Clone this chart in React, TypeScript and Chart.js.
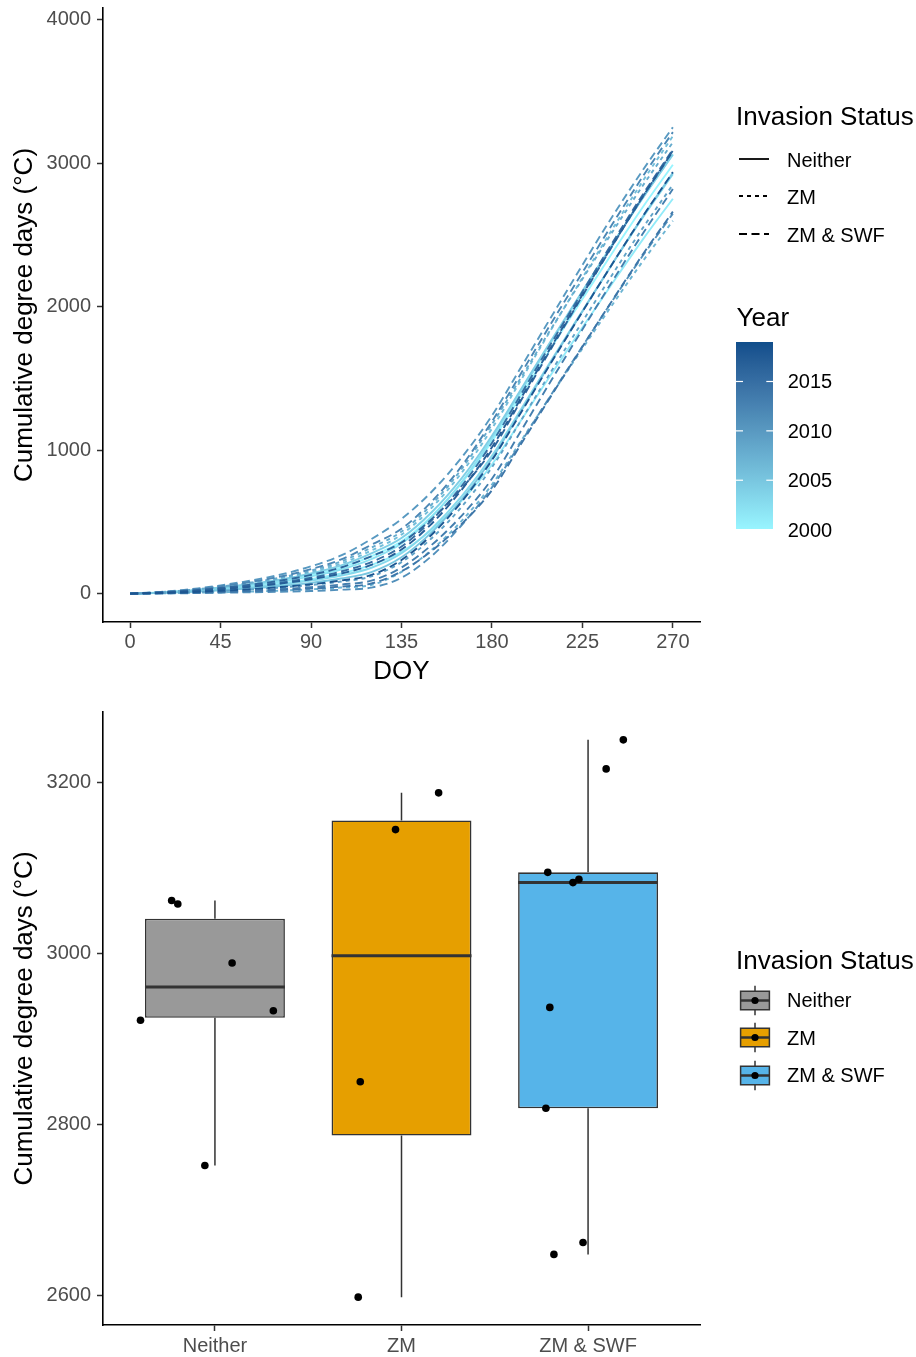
import React, { useEffect, useRef } from "react";
import { Chart, registerables } from "chart.js";

Chart.register(...registerables);

const FONT = "'Liberation Sans', Arial, Helvetica, sans-serif";

// ---------------- DATA ----------------
const DOY = [0, 15, 30, 45, 60, 75, 90, 105, 120, 135, 150, 165, 180, 195, 210, 225, 240, 255, 270];

const cdd2000 = [0, 8, 21, 39, 62, 91, 130, 182, 260, 364, 540, 772, 1060, 1392, 1725, 2053, 2377, 2692, 2989];
const cdd2001 = [0, 6, 16, 30, 48, 70, 100, 140, 200, 291, 445, 648, 900, 1219, 1539, 1854, 2165, 2467, 2752];
const cdd2002 = [0, 7, 19, 36, 58, 84, 120, 168, 240, 349, 534, 778, 1080, 1421, 1764, 2101, 2434, 2757, 3062];
const cdd2003 = [0, 5, 14, 27, 43, 63, 90, 126, 180, 281, 453, 679, 960, 1297, 1637, 1970, 2300, 2620, 2922];
const cdd2004 = [0, 8, 22, 42, 67, 98, 140, 196, 280, 387, 567, 805, 1100, 1437, 1776, 2108, 2437, 2756, 3058];
const cdd2005 = [0, 5, 12, 23, 36, 53, 75, 105, 150, 253, 427, 656, 940, 1283, 1628, 1966, 2301, 2626, 2933];
const cdd2006 = [0, 9, 24, 45, 72, 105, 150, 210, 300, 411, 598, 844, 1150, 1501, 1853, 2200, 2542, 2874, 3188];
const cdd2007 = [0, 2, 5, 9, 14, 21, 30, 42, 60, 151, 305, 508, 760, 1076, 1394, 1707, 2015, 2315, 2598];
const cdd2008 = [0, 10, 26, 48, 77, 112, 160, 224, 320, 432, 621, 870, 1180, 1518, 1858, 2192, 2522, 2842, 3145];
const cdd2009 = [0, 4, 10, 18, 29, 42, 60, 84, 120, 219, 386, 606, 880, 1219, 1560, 1895, 2226, 2547, 2850];
const cdd2010 = [0, 11, 30, 57, 91, 133, 190, 266, 380, 520, 710, 950, 1240, 1590, 1940, 2290, 2630, 2950, 3250];
const cdd2011 = [0, 1, 3, 6, 9, 13, 18, 27, 42, 110, 262, 478, 740, 1068, 1398, 1723, 2043, 2354, 2648];
const cdd2012 = [0, 10, 27, 51, 82, 119, 170, 238, 340, 452, 641, 890, 1200, 1547, 1896, 2238, 2577, 2906, 3216];
const cdd2013 = [0, 3, 7, 14, 22, 32, 45, 63, 90, 182, 339, 544, 800, 1147, 1497, 1840, 2179, 2508, 2819];
const cdd2014 = [0, 2, 6, 11, 17, 25, 35, 49, 70, 155, 298, 486, 720, 1054, 1390, 1720, 2046, 2363, 2662];
const cdd2015 = [0, 7, 18, 33, 53, 77, 110, 154, 220, 328, 511, 751, 1050, 1402, 1756, 2103, 2447, 2780, 3095];
const cdd2016 = [0, 8, 21, 39, 62, 91, 130, 182, 260, 356, 519, 734, 1000, 1359, 1720, 2075, 2425, 2766, 3087];
const cdd2017 = [0, 6, 16, 30, 48, 70, 100, 140, 200, 307, 487, 725, 1020, 1375, 1732, 2082, 2429, 2765, 3083];
const cdd2018 = [0, 4, 10, 20, 31, 46, 65, 91, 130, 234, 410, 642, 930, 1275, 1622, 1964, 2301, 2628, 2937];

const YEARS = [2000, 2001, 2002, 2003, 2004, 2005, 2006, 2007, 2008, 2009, 2010, 2011, 2012, 2013, 2014, 2015, 2016, 2017, 2018];
const CDD_BY_YEAR = [cdd2000, cdd2001, cdd2002, cdd2003, cdd2004, cdd2005, cdd2006, cdd2007, cdd2008, cdd2009,
  cdd2010, cdd2011, cdd2012, cdd2013, cdd2014, cdd2015, cdd2016, cdd2017, cdd2018];
const STATUS_OF_YEAR = ["Neither", "Neither", "Neither", "Neither", "Neither", "Neither",
  "ZM", "ZM", "ZM", "ZM",
  "ZM & SWF", "ZM & SWF", "ZM & SWF", "ZM & SWF", "ZM & SWF", "ZM & SWF", "ZM & SWF", "ZM & SWF", "ZM & SWF"];
// horizontal jitter of each year's point in the box plot (category units)
const JITTER = [0.092, -0.054, -0.232, -0.399, -0.199, 0.313,
  0.199, -0.232, -0.032, -0.221,
  0.189, -0.183, 0.097, -0.226, -0.027, -0.216, -0.049, -0.081, -0.205];

const STATUS_LEVELS = ["Neither", "ZM", "ZM & SWF"];
const STATUS_FILL = ["#999999", "#E69F00", "#56B4E9"];
const STATUS_DASH: number[][] = [[], [4, 4], [8, 4.5]];

const YEAR_LIMITS = [2000, 2019];
const YEAR_LABELS = [2000, 2005, 2010, 2015];
const COLOR_LOW = "#98F5FF";
const COLOR_HIGH = "#104E8B";

const DOY_TICKS = [0, 45, 90, 135, 180, 225, 270];
const CDD_TICKS = [0, 1000, 2000, 3000, 4000];
const BOX_TICKS = [2600, 2800, 3000, 3200];

// ---------------- helpers ----------------
const WHITE = [0.95047, 1, 1.08883];
function hexToRgb(hex: string) {
  const n = parseInt(hex.slice(1), 16);
  return [(n >> 16) & 255, (n >> 8) & 255, n & 255];
}
const toLin = (c: number) => { c /= 255; return c <= 0.04045 ? c / 12.92 : Math.pow((c + 0.055) / 1.055, 2.4); };
const fromLin = (c: number) => {
  const v = c <= 0.0031308 ? 12.92 * c : 1.055 * Math.pow(c, 1 / 2.4) - 0.055;
  return Math.round(Math.min(1, Math.max(0, v)) * 255);
};
function rgbToLab(rgb: number[]) {
  const [r, g, b] = rgb.map(toLin);
  const x = (0.4124564 * r + 0.3575761 * g + 0.1804375 * b) / WHITE[0];
  const y = (0.2126729 * r + 0.7151522 * g + 0.072175 * b) / WHITE[1];
  const z = (0.0193339 * r + 0.119192 * g + 0.9503041 * b) / WHITE[2];
  const f = (t: number) => (t > 216 / 24389 ? Math.cbrt(t) : ((24389 / 27) * t + 16) / 116);
  const fx = f(x), fy = f(y), fz = f(z);
  return [116 * fy - 16, 500 * (fx - fy), 200 * (fy - fz)];
}
function labToRgb(lab: number[]) {
  const [L, a, b] = lab;
  const fy = (L + 16) / 116, fx = fy + a / 500, fz = fy - b / 200;
  const finv = (t: number) => (t * t * t > 216 / 24389 ? t * t * t : (116 * t - 16) / (24389 / 27));
  const x = finv(fx) * WHITE[0], y = finv(fy) * WHITE[1], z = finv(fz) * WHITE[2];
  const r = 3.2404542 * x - 1.5371385 * y - 0.4985314 * z;
  const g = -0.969266 * x + 1.8760108 * y + 0.041556 * z;
  const bl = 0.0556434 * x - 0.2040259 * y + 1.0572252 * z;
  return `rgb(${fromLin(r)},${fromLin(g)},${fromLin(bl)})`;
}
const LAB_LOW = rgbToLab(hexToRgb(COLOR_LOW));
const LAB_HIGH = rgbToLab(hexToRgb(COLOR_HIGH));
function colorAt(t: number) {
  return labToRgb(LAB_LOW.map((v, i) => v + (LAB_HIGH[i] - v) * t));
}
function yearColor(year: number) {
  return colorAt((year - YEAR_LIMITS[0]) / (YEAR_LIMITS[1] - YEAR_LIMITS[0]));
}
function quantile7(sorted: number[], p: number) {
  const h = (sorted.length - 1) * p;
  const lo = Math.floor(h), hi = Math.ceil(h);
  return sorted[lo] + (h - lo) * (sorted[hi] - sorted[lo]);
}
function boxStats(values: number[]) {
  const s = [...values].sort((a, b) => a - b);
  const q1 = quantile7(s, 0.25), med = quantile7(s, 0.5), q3 = quantile7(s, 0.75);
  const iqr = q3 - q1;
  const lo = Math.min(...s.filter((v) => v >= q1 - 1.5 * iqr));
  const hi = Math.max(...s.filter((v) => v <= q3 + 1.5 * iqr));
  return { q1, med, q3, lo, hi };
}

// ---------------- layout ----------------
const W = 916;
const TOP_H = 690;
const BOT_H = 667;
const AREA_LEFT = 103;
const AREA_RIGHT = 700;
const TICK_COLOR = "#4D4D4D";
const BOX_WIDTH = 0.75;
const TITLE_SIZE = 26;

const yAfterFit = (s: any) => {
  s.width = AREA_LEFT;
  s.paddingTop = 0; s.paddingBottom = 0; s.paddingLeft = 0; s.paddingRight = 0;
};
const xAfterFitH = (h: number) => (s: any) => {
  s.height = h;
  s.paddingTop = 0; s.paddingBottom = 0; s.paddingLeft = 0; s.paddingRight = 0;
};
const gridOpts = { display: true, offset: false, drawOnChartArea: false, drawTicks: true, tickLength: 6, tickColor: "#333333", tickWidth: 1.5 };
const borderOpts = { display: true, color: "#000000", width: 1.6 };

function topConfig(): any {
  const datasets = YEARS.map((year, i) => {
    const s = STATUS_LEVELS.indexOf(STATUS_OF_YEAR[i]);
    return {
      label: String(year),
      data: DOY.map((d, j) => ({ x: d, y: CDD_BY_YEAR[i][j] })),
      borderColor: yearColor(year),
      borderDash: STATUS_DASH[s],
      borderWidth: 1.9,
      pointRadius: 0,
      fill: false,
      cubicInterpolationMode: "monotone",
      order: YEARS.length - i,
    };
  });
  return {
    type: "line",
    data: { datasets },
    options: {
      responsive: false,
      animation: false,
      devicePixelRatio: 1,
      layout: { padding: { left: 0, top: 8, right: W - AREA_RIGHT, bottom: 0 } },
      plugins: { legend: { display: false }, tooltip: { enabled: false } },
      scales: {
        x: {
          type: "linear", min: -13.5, max: 283.5,
          afterBuildTicks: (s: any) => { s.ticks = DOY_TICKS.map((v) => ({ value: v })); },
          afterFit: xAfterFitH(TOP_H - 622),
          ticks: { color: TICK_COLOR, font: { size: 20, family: FONT }, padding: 2.5, maxRotation: 0, callback: (v: any) => String(v) },
          grid: gridOpts, border: borderOpts,
          title: { display: true, text: "DOY", color: "#000", font: { size: TITLE_SIZE, family: FONT }, padding: { top: 0, bottom: 3 } },
        },
        y: {
          type: "linear", min: -198, max: 4081,
          afterBuildTicks: (s: any) => { s.ticks = CDD_TICKS.map((v) => ({ value: v })); },
          afterFit: yAfterFit,
          ticks: { color: TICK_COLOR, font: { size: 20, family: FONT }, padding: 6, callback: (v: any) => String(v) },
          grid: gridOpts, border: borderOpts,
          title: { display: true, text: "Cumulative degree days (°C)", color: "#000", font: { size: TITLE_SIZE, family: FONT }, padding: { top: 9, bottom: 0 } },
        },
      },
    },
  };
}

function bottomConfig(): any {
  const groups = STATUS_LEVELS.map((st) => CDD_BY_YEAR.filter((_, i) => STATUS_OF_YEAR[i] === st).map((s) => s[s.length - 1]));
  const stats = groups.map(boxStats);
  const all = groups.flat();
  const lo = Math.min(...all), hi = Math.max(...all);
  const pad = (hi - lo) * 0.05;

  const boxes = stats.map((st, i) => ({ x: i + 1, y: [st.q1, st.q3] }));
  const whiskers: any[] = [];
  const medians: any[] = [];
  stats.forEach((st, i) => {
    whiskers.push({ x: i + 1, y: st.lo }, { x: i + 1, y: st.q1 }, { x: i + 1, y: null });
    whiskers.push({ x: i + 1, y: st.q3 }, { x: i + 1, y: st.hi }, { x: i + 1, y: null });
    medians.push({ x: i + 1 - BOX_WIDTH / 2, y: st.med }, { x: i + 1 + BOX_WIDTH / 2, y: st.med }, { x: i + 1, y: null });
  });
  const points = YEARS.map((_, i) => ({
    x: STATUS_LEVELS.indexOf(STATUS_OF_YEAR[i]) + 1 + JITTER[i],
    y: CDD_BY_YEAR[i][CDD_BY_YEAR[i].length - 1],
  }));

  return {
    type: "bar",
    data: {
      datasets: [
        { type: "scatter", data: points, backgroundColor: "#000", borderWidth: 0, pointRadius: 3.8, order: 0 },
        { type: "line", data: medians, borderColor: "#333333", borderWidth: 3, pointRadius: 0, spanGaps: false, order: 1 },
        {
          type: "bar", data: boxes, backgroundColor: STATUS_FILL, borderColor: "#333333", borderWidth: 1.6,
          borderSkipped: false, barPercentage: BOX_WIDTH, categoryPercentage: 1, order: 2,
        },
        { type: "line", data: whiskers, borderColor: "#333333", borderWidth: 1.5, pointRadius: 0, spanGaps: false, order: 3 },
      ],
    },
    options: {
      responsive: false,
      animation: false,
      devicePixelRatio: 1,
      layout: { padding: { left: 0, top: 22, right: W - AREA_RIGHT, bottom: 0 } },
      plugins: { legend: { display: false }, tooltip: { enabled: false } },
      scales: {
        x: {
          type: "linear", min: 0.4, max: STATUS_LEVELS.length + 0.6, offset: false,
          afterBuildTicks: (s: any) => { s.ticks = STATUS_LEVELS.map((_, i) => ({ value: i + 1 })); },
          afterFit: xAfterFitH(BOT_H - (1325 - TOP_H)),
          ticks: { color: TICK_COLOR, font: { size: 20, family: FONT }, padding: 3, maxRotation: 0, callback: (v: any) => STATUS_LEVELS[Math.round(v) - 1] },
          grid: gridOpts, border: borderOpts,
        },
        y: {
          type: "linear", min: lo - pad, max: hi + pad,
          afterBuildTicks: (s: any) => { s.ticks = BOX_TICKS.map((v) => ({ value: v })); },
          afterFit: yAfterFit,
          ticks: { color: TICK_COLOR, font: { size: 20, family: FONT }, padding: 6, callback: (v: any) => String(v) },
          grid: gridOpts, border: borderOpts,
          title: { display: true, text: "Cumulative degree days (°C)", color: "#000", font: { size: TITLE_SIZE, family: FONT }, padding: { top: 9, bottom: 0 } },
        },
      },
    },
  };
}

// ---------------- legends ----------------
const txt = (text: string, left: number, capCenter: number, size: number, key?: string) => (
  <div key={key ?? text + capCenter} style={{
    position: "absolute", left, top: capCenter - 0.488 * size, fontSize: size, lineHeight: 1,
    whiteSpace: "nowrap", color: "#000", fontFamily: FONT,
  }}>{text}</div>
);

const BAR_LEFT = 736, BAR_TOP = 341.7, BAR_W = 37.3, BAR_H = 187.6;
const yearToBarY = (y: number) => BAR_TOP + ((YEAR_LIMITS[1] - y) / (YEAR_LIMITS[1] - YEAR_LIMITS[0])) * BAR_H;

function Colorbar() {
  const stops: string[] = [];
  for (let k = 0; k <= 20; k++) stops.push(`${colorAt(k / 20)} ${(k / 20) * 100}%`);
  return (
    <>
      <div style={{ position: "absolute", left: BAR_LEFT, top: BAR_TOP, width: BAR_W, height: BAR_H, background: `linear-gradient(to top, ${stops.join(", ")})` }} />
      <svg style={{ position: "absolute", left: BAR_LEFT, top: BAR_TOP, overflow: "visible" }} width={BAR_W} height={BAR_H}>
        {YEAR_LABELS.map((y) => {
          const yy = yearToBarY(y) - BAR_TOP;
          return (
            <g key={y}>
              <line x1={0} x2={7} y1={yy} y2={yy} stroke="#fff" strokeWidth={1.2} />
              <line x1={BAR_W - 7} x2={BAR_W} y1={yy} y2={yy} stroke="#fff" strokeWidth={1.2} />
            </g>
          );
        })}
      </svg>
      {YEAR_LABELS.map((y) => txt(String(y), 787.7, yearToBarY(y), 20, "yl" + y))}
    </>
  );
}

const TOP_ITEM_Y = [159.5, 197, 234.5];
const BOT_ITEM_Y = [1000, 1037.5, 1075];

function TopLegend() {
  return (
    <>
      {txt("Invasion Status", 736, 116, TITLE_SIZE, "t1")}
      {STATUS_LEVELS.map((st, i) => (
        <React.Fragment key={st}>
          <svg style={{ position: "absolute", left: 737, top: TOP_ITEM_Y[i] - 6 }} width={34} height={10}>
            <line x1={2} x2={32} y1={5} y2={5} stroke="#000" strokeWidth={1.8}
              strokeDasharray={STATUS_DASH[i].length ? STATUS_DASH[i].join(" ") : undefined} />
          </svg>
          {txt(st, 787, TOP_ITEM_Y[i], 20, "tl" + st)}
        </React.Fragment>
      ))}
      {txt("Year", 736.5, 316.7, TITLE_SIZE, "t2")}
      <Colorbar />
    </>
  );
}

function BottomLegend() {
  return (
    <>
      {txt("Invasion Status", 736, 960, TITLE_SIZE, "t3")}
      {STATUS_LEVELS.map((st, i) => (
        <React.Fragment key={st}>
          <svg style={{ position: "absolute", left: 737, top: BOT_ITEM_Y[i] - 18.5 }} width={36} height={37}>
            <line x1={18} x2={18} y1={3.7} y2={33.3} stroke="#333" strokeWidth={1.5} />
            <rect x={3.6} y={9.25} width={28.8} height={18.5} fill={STATUS_FILL[i]} stroke="#333" strokeWidth={1.5} />
            <line x1={3.6} x2={32.4} y1={18.5} y2={18.5} stroke="#333" strokeWidth={2.5} />
            <circle cx={18} cy={18.5} r={3.6} fill="#000" />
          </svg>
          {txt(st, 787, BOT_ITEM_Y[i], 20, "bl" + st)}
        </React.Fragment>
      ))}
    </>
  );
}

export default function App() {
  const topRef = useRef<HTMLCanvasElement>(null);
  const botRef = useRef<HTMLCanvasElement>(null);
  useEffect(() => {
    Chart.defaults.font.family = FONT;
    const c1 = new Chart(topRef.current as HTMLCanvasElement, topConfig());
    const c2 = new Chart(botRef.current as HTMLCanvasElement, bottomConfig());
    return () => { c1.destroy(); c2.destroy(); };
  }, []);
  return (
    <div style={{ position: "absolute", left: 0, top: 0, width: W, height: TOP_H + BOT_H, background: "#fff", fontFamily: FONT }}>
      <canvas ref={topRef} width={W} height={TOP_H} style={{ position: "absolute", left: 0, top: 0, width: W, height: TOP_H }} />
      <canvas ref={botRef} width={W} height={BOT_H} style={{ position: "absolute", left: 0, top: TOP_H, width: W, height: BOT_H }} />
      <TopLegend />
      <BottomLegend />
    </div>
  );
}
